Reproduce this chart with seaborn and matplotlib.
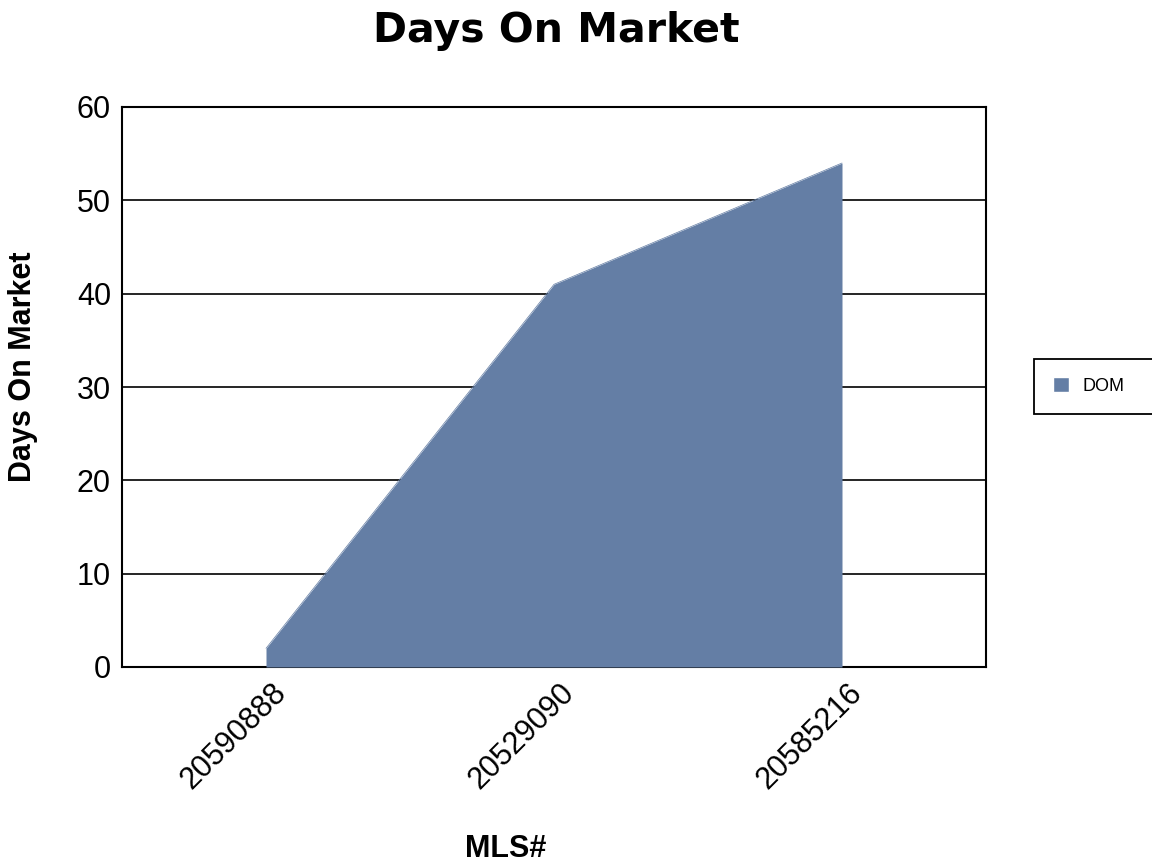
import matplotlib
matplotlib.use("Agg")
import matplotlib.pyplot as plt
import matplotlib.transforms as mtransforms
import seaborn as sns
import pandas as pd
import numpy as np
from matplotlib.patches import Patch, Rectangle

mls_ids = ["20590888", "20529090", "20585216"]
dom_values = [2, 41, 54]
series_name = "DOM"

sns.set_theme(style="white")
plt.rcParams["font.family"] = ["Liberation Sans", "DejaVu Sans"]
plt.rcParams["text.color"] = "black"
plt.rcParams["axes.labelcolor"] = "black"
plt.rcParams["xtick.color"] = "black"
plt.rcParams["ytick.color"] = "black"

fill_color = "#647ea5"
W, H = 1152, 867

df = pd.DataFrame({"MLS#": mls_ids, "DOM": dom_values})
df["pos"] = np.arange(len(df))

fig = plt.figure(figsize=(W / 100, H / 100), dpi=100)
ax = fig.add_axes([122 / W, 1 - 667 / H, 864 / W, 560 / H])

# area chart: outline via seaborn, then filled down to zero
sns.lineplot(data=df, x="pos", y="DOM", ax=ax, color=fill_color, linewidth=0.5,
             legend=False, zorder=2)
ax.fill_between(df["pos"], 0, df["DOM"], color=fill_color, linewidth=0, zorder=3)

ax.set_xlim(-0.5, len(df) - 0.5)
ax.set_ylim(0, 60)
ax.set_yticks(range(0, 61, 10))
ax.set_xticks(df["pos"])
ax.set_xticklabels(df["MLS#"], rotation=45, ha="right", va="top",
                   rotation_mode="anchor", fontsize=22)
ax.tick_params(axis="y", labelsize=22, length=0, pad=8)
ax.tick_params(axis="x", length=0, pad=0)
shift = mtransforms.ScaledTranslation(5 / 100, -11 / 100, fig.dpi_scale_trans)
for lbl in ax.get_xticklabels():
    lbl.set_transform(lbl.get_transform() + shift)

ax.yaxis.grid(True, color="black", linewidth=1.2, zorder=1)
ax.set_axisbelow(True)
for s in ax.spines.values():
    s.set_color("black")
    s.set_linewidth(1.5)

ax.set_xlabel("MLS#", fontsize=22, fontweight="bold")
ax.xaxis.set_label_coords((506 - 122) / 864, (667 - 834) / 560)
ax.set_ylabel("Days On Market", fontsize=22, fontweight="bold")
ax.yaxis.set_label_coords((38 - 122) / 864, (667 - 367) / 560)

fig.text(556 / W, 1 - 31 / H, "Days On Market", fontsize=29.5, fontweight="bold",
         family="DejaVu Sans", ha="center", va="center")

# legend box runs off the right edge of the figure
fig.add_artist(Rectangle((1034 / W, 1 - 414 / H), 140 / W, 55 / H,
                         transform=fig.transFigure, facecolor="white",
                         edgecolor="black", linewidth=1.3, clip_on=False))
leg = fig.legend(handles=[Patch(facecolor=fill_color, label=series_name)],
                 loc="center left", bbox_to_anchor=(1053 / W, 1 - 386 / H),
                 frameon=False, fontsize=13, handlelength=0.9, handleheight=0.9,
                 borderpad=0, borderaxespad=0, handletextpad=0.75)

fig.savefig("out.png", dpi=100)
